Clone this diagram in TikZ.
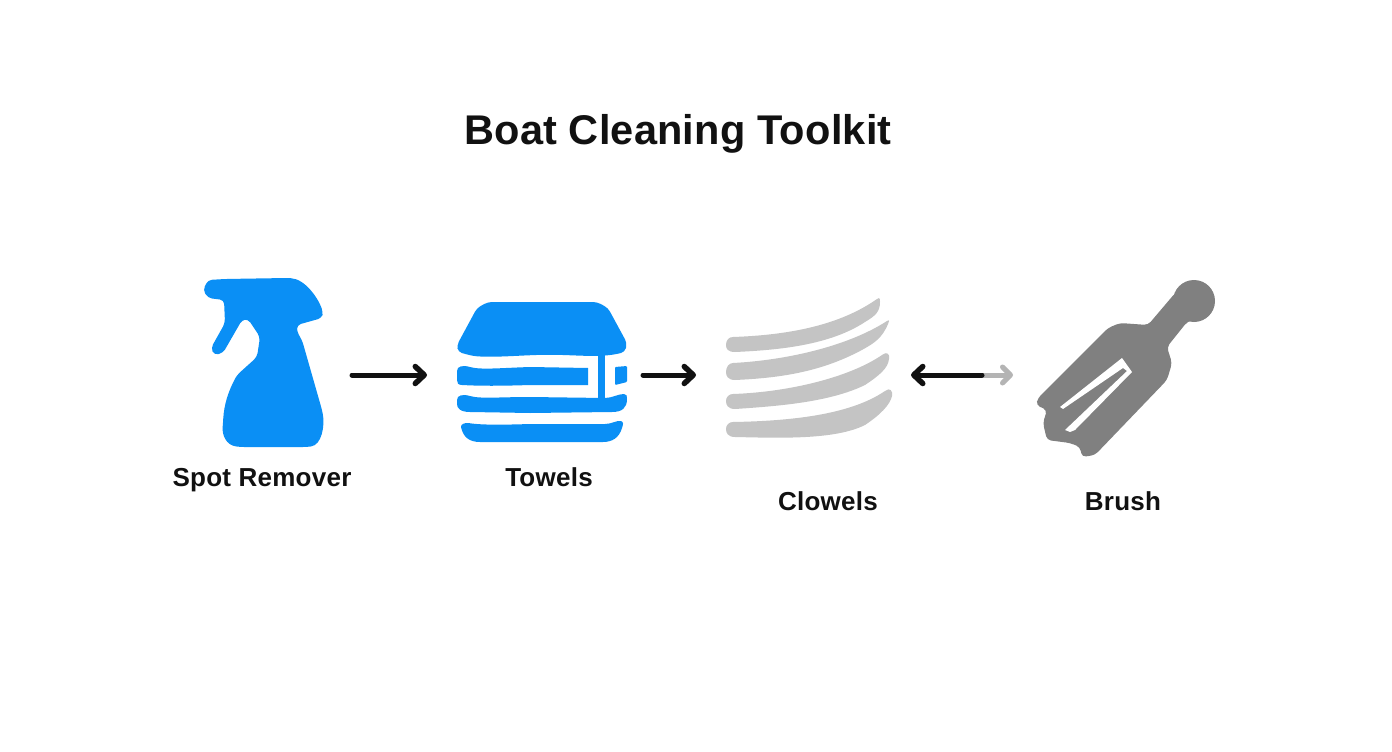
\documentclass[tikz,border=0pt]{standalone}
\usepackage{fontspec}
\setmainfont{Liberation Sans}
\newfontfamily\titlefont[LetterSpace=0.5]{Liberation Sans}
\newfontfamily\labelfont[LetterSpace=1]{Liberation Sans}
\usetikzlibrary{arrows.meta}
\definecolor{toolblue}{HTML}{0A8FF5}
\definecolor{clowelgray}{HTML}{C4C4C4}
\definecolor{brushgray}{HTML}{808080}
\definecolor{fadedgray}{HTML}{B4B4B4}
\definecolor{inkblack}{HTML}{111111}

\begin{document}
\begin{tikzpicture}[x=1pt, y=-1pt, line cap=round,
		iconbox/.style={inner sep=0pt, outer sep=0pt, minimum height=150pt},
		itemlabel/.style={anchor=base, text=inkblack, font=\labelfont\fontsize{26}{28}\selectfont\bfseries},
		flow/.style={-{Straight Barb[length=9pt, width=17pt, line width=5.5pt, round]}, line width=5pt, draw=inkblack},
		faded/.style={-{Straight Barb[length=8pt, width=16pt, line width=5pt, round]}, line width=5pt, draw=fadedgray}]
		\useasboundingbox (0,0) rectangle (1392,752);
		\fill [white] (0,0) rectangle (1392,752);

		\node (title) [anchor=base, text=inkblack, font=\titlefont\fontsize{41.5}{46}\selectfont\bfseries] at (678,144) {Boat Cleaning Toolkit};

		\matrix at (710,375) [inner sep=0pt] {
			\node (remover) [iconbox, minimum width=162pt] {}; &[75pt]
			\node (towels) [iconbox, minimum width=216pt] {}; &[53pt]
			\node (clowels) [iconbox, minimum width=215pt] {}; &[102pt]
			\node (brush) [iconbox, minimum width=217pt] {}; \\
		};

		% spray bottle
		\fill [toolblue, rounded corners=4pt] (225,279) -- (287,278)
			.. controls (305,279) and (318,298) .. (323,312) -- (322,318) -- (297,325) -- (297,332) -- (302,340)
			-- (322,410) .. controls (325,425) and (322,445) .. (307,447) -- (240,447)
			.. controls (226,445) and (222,435) .. (223,423) .. controls (224,405) and (228,392) .. (237,375)
			-- (257,357) -- (260,337) -- (248,319) -- (242,320) -- (223,353) -- (214,355) -- (211,348)
			-- (225,323) -- (224,300) -- (208,298) -- (203,290) -- (208,280) -- cycle;

		% stacked towels
		\fill [toolblue, rounded corners=4pt] (488,302) -- (597,302) -- (608,308) -- (627,343) -- (625,352)
			.. controls (605,357) and (590,356) .. (563,355) .. controls (530,354) and (500,358) .. (473,356)
			-- (458,352) -- (457,345) -- (477,308) -- cycle;
		\fill [toolblue] (598,350) rectangle (604.5,400);
		\fill [toolblue] (457,371) .. controls (457,366) and (463,365) .. (470,367)
			.. controls (480,370) and (500,368) .. (530,367) -- (588,368) -- (588,385) -- (530,385)
			.. controls (500,386) and (480,386) .. (462,385) .. controls (458,385) and (457,383) .. (457,380) -- cycle;
		\fill [toolblue, rounded corners=1pt] (615,367) -- (627,366) -- (627,382) -- (615,385) -- cycle;
		\fill [toolblue] (457,400) .. controls (457,395) and (463,394) .. (470,396)
			.. controls (480,399) and (500,397) .. (530,397) -- (605,398) .. controls (612,398) and (618,394) .. (624,394)
			.. controls (627,394) and (627,396) .. (627,399) .. controls (627,408) and (622,412) .. (612,412)
			-- (530,413) -- (470,412) .. controls (460,412) and (457,408) .. (457,404) -- cycle;
		\fill [toolblue] (461,427) .. controls (461,424) and (464,423) .. (468,423)
			.. controls (480,425) and (500,425) .. (530,424) -- (605,424) .. controls (612,424) and (617,420) .. (621,421)
			.. controls (624,422) and (623,425) .. (622,428) .. controls (619,438) and (612,442) .. (603,442)
			-- (530,442) -- (480,442) .. controls (468,442) and (463,436) .. (461,427) -- cycle;

		% clowels
		\fill [clowelgray] (733,337) .. controls (790,335) and (840,325) .. (877,299) .. controls (880,297) and (880,299) .. (880,302)
			.. controls (880,312) and (875,316) .. (865,322) .. controls (830,345) and (780,350) .. (735,352)
			.. controls (728,352) and (726,349) .. (726,345) .. controls (726,340) and (729,337) .. (733,337) -- cycle;
		\fill [clowelgray] (733,363) .. controls (790,360) and (850,345) .. (887,321) .. controls (890,319) and (889,322) .. (888,324)
			.. controls (882,338) and (875,343) .. (860,351) .. controls (820,372) and (780,378) .. (735,380)
			.. controls (728,380) and (726,376) .. (726,372) .. controls (726,367) and (729,363) .. (733,363) -- cycle;
		\fill [clowelgray] (733,394) .. controls (790,392) and (850,377) .. (882,355) .. controls (887,351) and (890,354) .. (889,359)
			.. controls (888,368) and (880,375) .. (865,385) .. controls (830,402) and (780,406) .. (735,409)
			.. controls (728,409) and (726,405) .. (726,401) .. controls (726,397) and (729,394) .. (733,394) -- cycle;
		\fill [clowelgray] (733,422) .. controls (790,421) and (850,415) .. (885,391) .. controls (890,387) and (893,391) .. (892,396)
			.. controls (890,405) and (880,415) .. (865,425) .. controls (835,440) and (780,438) .. (735,437)
			.. controls (728,437) and (726,433) .. (726,429) .. controls (726,425) and (729,422) .. (733,422) -- cycle;

		% brush
		\fill [brushgray] (1194,301) circle (21);
		\fill [brushgray, rounded corners=4pt] (1108,328) -- (1120,323) -- (1148,325) -- (1176,292) -- (1205,315)
			-- (1187,322) -- (1167,347) -- (1172,363) -- (1167,380) -- (1095,455) -- (1082,457) -- (1080,447)
			-- (1070,443) -- (1047,440) -- (1043,423) -- (1047,410) -- (1036,405) -- (1038,398) -- cycle;
		\fill [white] (1122,358) -- (1060,407) -- (1063,409) -- (1123,368) -- (1127,371) -- (1065,430)
			-- (1070,432) -- (1075,430) -- (1132,372) -- cycle;

		\node (removertext) [itemlabel] at (262,486) {Spot Remover};
		\node (towelstext) [itemlabel] at (549,486) {Towels};
		\node (clowelstext) [itemlabel] at (828,510) {Clowels};
		\node (brushtext) [itemlabel] at (1123,510) {Brush};

		\coordinate (split) at (982,375);
		\draw [flow] (remover) -- (towels);
		\draw [flow] (towels) -- (clowels);
		\draw [faded] (split) -- (brush);
		\draw [flow] (split) -- (clowels);
\end{tikzpicture}
\end{document}
